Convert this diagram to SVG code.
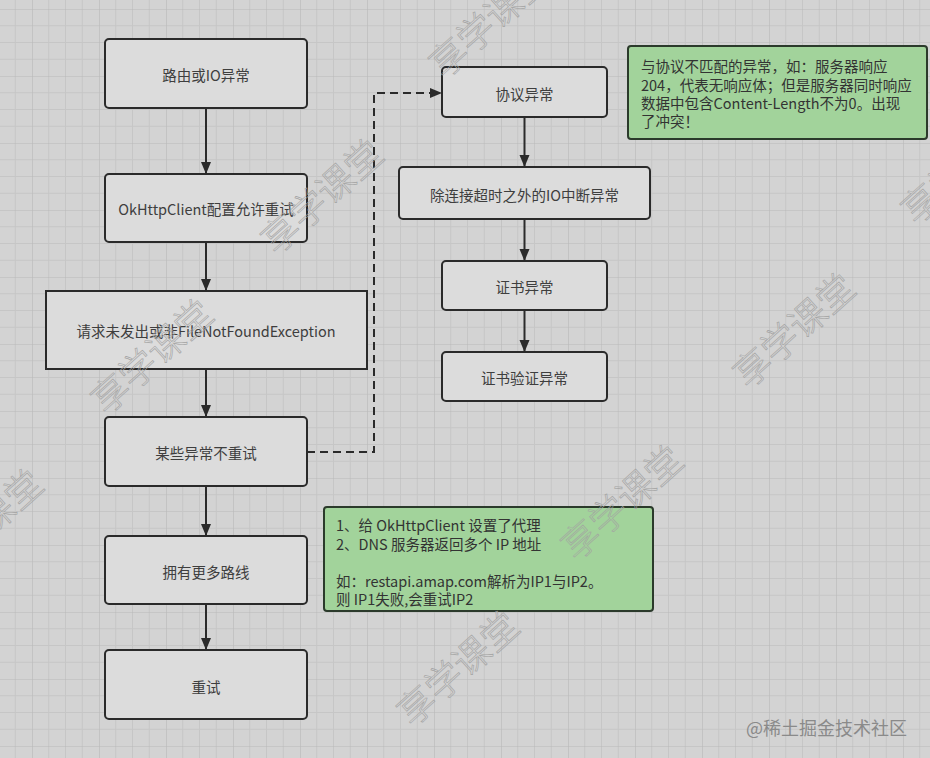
<svg xmlns="http://www.w3.org/2000/svg" width="930" height="758" viewBox="0 0 930 758">
<defs>
<pattern id="grid" x="32" y="9" width="67" height="67" patternUnits="userSpaceOnUse">
<path d="M16.75 0V67M33.5 0V67M50.25 0V67M0 16.75H67M0 33.5H67M0 50.25H67" stroke="#c6c6c6" stroke-width="1" fill="none"/>
<path d="M0 0V67M0 0H67" stroke="#b9b9b9" stroke-width="1.2" fill="none"/>
</pattern>
<marker id="arr" markerWidth="12" markerHeight="12" viewBox="0 0 12 12" refX="12" refY="6" orient="auto" markerUnits="userSpaceOnUse">
<path d="M0 1L12 6L0 11Z" fill="#2a2a2a"/>
</marker>
<style>
.box{fill:#dcdcdc;stroke:#2a2a2a;stroke-width:2}
.note{fill:#a2d39b;stroke:#2b3a2b;stroke-width:2}
.lbl{font-family:"Noto Sans CJK SC","Noto Sans",sans-serif;font-size:14.5px;fill:#3e3e3e;text-anchor:middle;dominant-baseline:central}
.ntxt{font-family:"Noto Sans CJK SC","Noto Sans",sans-serif;font-size:14.5px;fill:#333;dominant-baseline:central}
.edge{stroke:#2a2a2a;stroke-width:2;fill:none}
.wm{font-family:"Noto Sans CJK SC",sans-serif;font-size:37px;font-weight:200;fill:none;stroke:#a2a2a2;stroke-width:0.6}
</style>
</defs>
<rect width="930" height="758" fill="#d3d3d3"/>
<rect width="930" height="758" fill="url(#grid)"/>

<g id="n1"><rect class="box" x="105" y="39" width="202" height="69" rx="4"/><text class="lbl" x="206" y="74">路由或IO异常</text></g>
<g id="n2"><rect class="box" x="105" y="174" width="202" height="68" rx="4"/><text class="lbl" x="206" y="208">OkHttpClient配置允许重试</text></g>
<g id="n3"><rect class="box" x="46" y="291" width="321" height="78"/><text class="lbl" x="206" y="330">请求未发出或非FileNotFoundException</text></g>
<g id="n4"><rect class="box" x="105" y="417" width="202" height="69" rx="4"/><text class="lbl" x="206" y="452">某些异常不重试</text></g>
<g id="n5"><rect class="box" x="105" y="536" width="202" height="68" rx="4"/><text class="lbl" x="206" y="571">拥有更多路线</text></g>
<g id="n6"><rect class="box" x="105" y="650" width="202" height="69" rx="4"/><text class="lbl" x="206" y="686">重试</text></g>

<g id="r1"><rect class="box" x="442" y="67" width="165" height="50" rx="4"/><text class="lbl" x="524.5" y="93">协议异常</text></g>
<g id="r2"><rect class="box" x="399" y="167" width="251" height="52" rx="4"/><text class="lbl" x="524.5" y="194">除连接超时之外的IO中断异常</text></g>
<g id="r3"><rect class="box" x="442" y="261" width="165" height="49" rx="4"/><text class="lbl" x="524.5" y="286">证书异常</text></g>
<g id="r4"><rect class="box" x="442" y="352" width="165" height="49" rx="4"/><text class="lbl" x="524.5" y="377">证书验证异常</text></g>

<g id="note1"><rect class="note" x="628" y="46" width="299" height="93" rx="3"/>
<text class="ntxt" x="641" y="65">与协议不匹配的异常，如：服务器响应</text>
<text class="ntxt" x="641" y="84">204，代表无响应体；但是服务器同时响应</text>
<text class="ntxt" x="641" y="102">数据中包含Content-Length不为0。出现</text>
<text class="ntxt" x="641" y="120">了冲突！</text></g>

<g id="note2"><rect class="note" x="324" y="507" width="329" height="104" rx="3"/>
<text class="ntxt" x="336" y="524">1、给 OkHttpClient 设置了代理</text>
<text class="ntxt" x="336" y="543">2、DNS 服务器返回多个 IP 地址</text>
<text class="ntxt" x="336" y="580">如：restapi.amap.com解析为IP1与IP2。</text>
<text class="ntxt" x="336" y="598">则 IP1失败,会重试IP2</text></g>

<g id="connectors">
<path class="edge" d="M206 108V174" marker-end="url(#arr)"/>
<path class="edge" d="M206 242V291" marker-end="url(#arr)"/>
<path class="edge" d="M206 369V417" marker-end="url(#arr)"/>
<path class="edge" d="M206 486V536" marker-end="url(#arr)"/>
<path class="edge" d="M206 604V650" marker-end="url(#arr)"/>
<path class="edge" d="M524.5 117V167" marker-end="url(#arr)"/>
<path class="edge" d="M524.5 219V261" marker-end="url(#arr)"/>
<path class="edge" d="M524.5 310V352" marker-end="url(#arr)"/>
<path class="edge" d="M307 452H374V93H442" stroke-dasharray="8 5" marker-end="url(#arr)"/>
</g>

<g id="watermarks">
<text class="wm" transform="translate(444 80) rotate(-42)">享学课堂</text>
<text class="wm" transform="translate(276 256) rotate(-42)">享学课堂</text>
<text class="wm" transform="translate(106 416) rotate(-42)">享学课堂</text>
<text class="wm" transform="translate(-64 586) rotate(-42)">享学课堂</text>
<text class="wm" transform="translate(748 390) rotate(-42)">享学课堂</text>
<text class="wm" transform="translate(916 226) rotate(-42)">享学课堂</text>
<text class="wm" transform="translate(576 562) rotate(-42)">享学课堂</text>
<text class="wm" transform="translate(412 728) rotate(-42)">享学课堂</text>
<text x="907" y="727" font-family="Noto Sans CJK SC,sans-serif" font-size="18" fill="#8a8a8a" text-anchor="end" dominant-baseline="central">@稀土掘金技术社区</text>
</g>
</svg>
